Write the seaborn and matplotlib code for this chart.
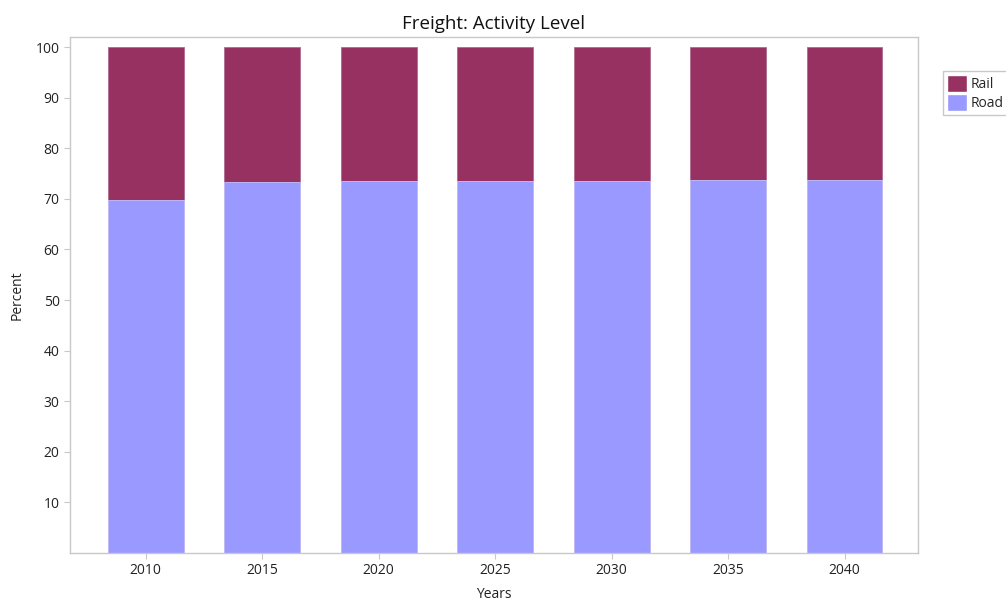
import matplotlib
matplotlib.use('Agg')
import matplotlib.pyplot as plt
import seaborn as sns
import pandas as pd
from matplotlib.patches import Patch

# ── Data ──────────────────────────────────────────────────────────
years = ["2010", "2015", "2020", "2025", "2030", "2035", "2040"]
road = [69.8, 73.4, 73.5, 73.6, 73.6, 73.7, 73.8]
rail = [100 - r for r in road]

df = pd.DataFrame({"Years": years, "Road": road, "Rail": rail})
df["Total"] = df["Road"] + df["Rail"]

RAIL_COLOR = "#963162"
ROAD_COLOR = "#9999ff"

sns.set_style("white")
plt.rcParams['font.family'] = ['Open Sans', 'DejaVu Sans']

fig = plt.figure(figsize=(10.06, 6.08), dpi=100)
ax = fig.add_axes([70 / 1006, 1 - 553 / 608, 848 / 1006, 516 / 608])

# stacked: draw total (rail on top) then road over it
sns.barplot(data=df, x="Years", y="Total", color=RAIL_COLOR, width=0.65,
            saturation=1, ax=ax, edgecolor="#b06a8f", linewidth=0.6)
sns.barplot(data=df, x="Years", y="Road", color=ROAD_COLOR, width=0.65,
            saturation=1, ax=ax, edgecolor="#c4c4ff", linewidth=0.6)

ax.set_xlim(-0.65, 6.63)
ax.set_ylim(0, 102)
ax.set_yticks(range(10, 101, 10))
ax.set_title("Freight: Activity Level", fontsize=13.5, pad=6, color="#111111")
ax.set_xlabel("Years", fontsize=10, labelpad=6, color="#222222")
ax.set_ylabel("Percent", fontsize=10, labelpad=8, color="#222222")
ax.tick_params(axis='both', labelsize=10, length=4, direction='out',
               bottom=True, left=True, colors="#222222")
ax.tick_params(axis='both', color="#c8c8c8")
for s in ax.spines.values():
    s.set_color("#c8c8c8")
    s.set_linewidth(1)

handles = [Patch(facecolor=RAIL_COLOR, label="Rail"),
           Patch(facecolor=ROAD_COLOR, label="Road")]
fig.legend(handles=handles, loc='upper left', bbox_to_anchor=(936 / 1006, 1 - 64 / 608),
           frameon=True, fontsize=10, edgecolor="#c8c8c8", fancybox=False,
           handlelength=1.4, handleheight=1.5, handletextpad=0.3,
           borderpad=0.3, labelspacing=0.15, framealpha=1)

plt.savefig("out.png", dpi=100)
plt.close()
